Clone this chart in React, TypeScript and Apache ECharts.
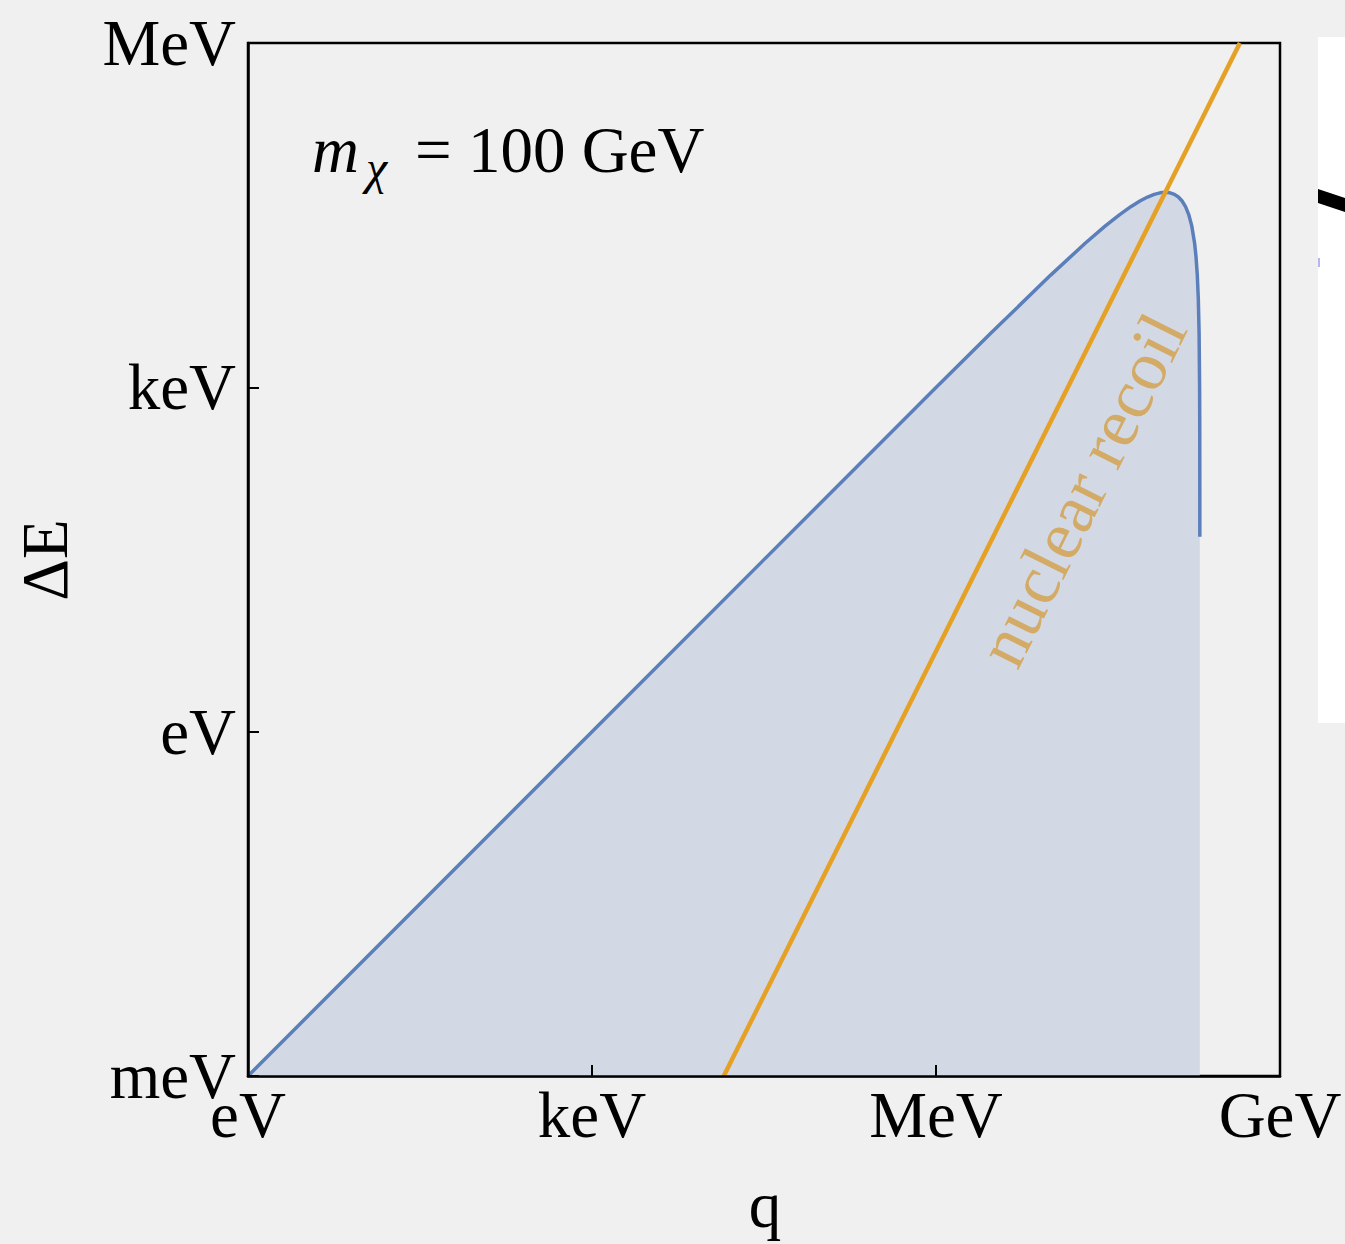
import React, { useEffect, useRef } from "react";
import * as echarts from "echarts";

// momentum transfer q (eV) and max energy transfer ΔE (eV) along the blue boundary (m_χ = 100 GeV)
const boundaryQ = [1, 1e3, 1e6, 3e6, 1e7, 2e7, 3e7, 4e7, 5e7, 6e7, 7e7, 8e7, 9e7, 1e8, 1.1e8, 1.2e8, 1.3e8, 1.4e8, 1.5e8, 1.6e8, 1.7e8, 1.8e8, 1.85e8, 1.9e8, 1.94e8, 1.97e8, 1.99e8, 1.995e8, 1.999e8, 1.9995e8];
const boundaryE = [1e-3, 1, 995, 2955, 9500, 18000, 25500, 32000, 37500, 42000, 45500, 48000, 49500, 50000, 49500, 48000, 45500, 42000, 37500, 32000, 25500, 18000, 13875, 9500, 5820, 2955, 995, 499, 100, 50];

// nuclear recoil line endpoints
const recoilQ = [1.41e4, 4.47e8];
const recoilE = [1e-3, 1e6];

const xTickLabels = ["eV", "keV", "MeV", "GeV"]; // 1e0, 1e3, 1e6, 1e9
const yTickLabels = ["meV", "eV", "keV", "MeV"]; // 1e-3, 1e0, 1e3, 1e6

const FONT = "'Liberation Serif', 'Times New Roman', serif";

export default function App() {
  const ref = useRef<HTMLDivElement>(null);
  useEffect(() => {
    if (!ref.current) return;
    const chart = echarts.init(ref.current, null, { renderer: "svg" });
    const option: any = {
      animation: false,
      backgroundColor: "#f0f0f0",
      grid: {
        left: 248,
        top: 43,
        right: 65,
        bottom: 168,
        show: true,
        borderColor: "#000",
        borderWidth: 2.5,
        backgroundColor: "transparent",
      },
      xAxis: {
        type: "log",
        logBase: 10,
        min: 1,
        max: 1e9,
        interval: 3,
        z: 5,
        axisLine: { show: true, onZero: false, lineStyle: { color: "#000", width: 2.5 } },
        axisTick: { show: true, inside: true, length: 11, lineStyle: { color: "#000", width: 2 } },
        minorTick: { show: false },
        splitLine: { show: false },
        axisLabel: {
          margin: 6,
          fontFamily: FONT,
          fontSize: 65,
          color: "#000",
          formatter: (v: number) => xTickLabels[Math.round(Math.log10(v) / 3)] ?? "",
        },
      },
      yAxis: {
        type: "log",
        logBase: 10,
        min: 1e-3,
        max: 1e6,
        interval: 3,
        z: 5,
        axisLine: { show: true, onZero: false, lineStyle: { color: "#000", width: 2.5 } },
        axisTick: { show: true, inside: true, length: 11, lineStyle: { color: "#000", width: 2 } },
        splitLine: { show: false },
        axisLabel: {
          margin: 12,
          fontFamily: FONT,
          fontSize: 65,
          color: "#000",
          formatter: (v: number) => yTickLabels[Math.round((Math.log10(v) + 3) / 3)] ?? "",
        },
      },
      series: [
        {
          type: "line",
          data: boundaryQ.map((q, i) => [q, boundaryE[i]]),
          showSymbol: false,
          smooth: false,
          lineStyle: { color: "#5b7fba", width: 3.5 },
          areaStyle: { color: "#d3d9e4", opacity: 1, origin: "start" },
          z: 2,
        },
        {
          type: "line",
          data: recoilQ.map((q, i) => [q, recoilE[i]]),
          showSymbol: false,
          lineStyle: { color: "#e5a126", width: 4.5 },
          z: 3,
        },
      ],
      graphic: [
        {
          type: "text",
          x: 1082,
          y: 490,
          rotation: Math.atan(2),
          style: {
            text: "nuclear recoil",
            font: `70px ${FONT}`,
            fill: "#d3ab66",
            align: "center",
            verticalAlign: "middle",
          },
          z: 10,
        },
        {
          type: "text",
          x: 312,
          y: 117,
          style: { text: "m", font: `italic 65px ${FONT}`, fill: "#000", verticalAlign: "top" },
        },
        {
          type: "text",
          x: 366,
          y: 143,
          style: { text: "χ", font: `italic 48px ${FONT}`, fill: "#000", verticalAlign: "top" },
        },
        {
          type: "text",
          x: 415,
          y: 117,
          style: { text: "= 100 GeV", font: `65px ${FONT}`, fill: "#000", verticalAlign: "top" },
        },
        {
          type: "text",
          x: 45,
          y: 560,
          rotation: Math.PI / 2,
          style: { text: "ΔE", font: `65px ${FONT}`, fill: "#000", align: "center", verticalAlign: "middle" },
        },
        {
          type: "text",
          x: 765,
          y: 1205,
          style: { text: "q", font: `65px ${FONT}`, fill: "#000", align: "center", verticalAlign: "middle" },
        },
        {
          type: "rect",
          shape: { x: 1318, y: 37, width: 40, height: 686 },
          style: { fill: "#ffffff" },
        },
        {
          type: "polygon",
          shape: { points: [[1318, 189], [1345, 198], [1345, 212], [1318, 203]] },
          style: { fill: "#000" },
        },
        {
          type: "rect",
          shape: { x: 1318, y: 258, width: 2, height: 9 },
          style: { fill: "#b3b8f2" },
        },
      ],
    };
    chart.setOption(option);
    return () => chart.dispose();
  }, []);
  return (
    <div
      ref={ref}
      style={{ position: "fixed", left: 0, top: 0, width: 1345, height: 1244, background: "#f0f0f0" }}
    />
  );
}
